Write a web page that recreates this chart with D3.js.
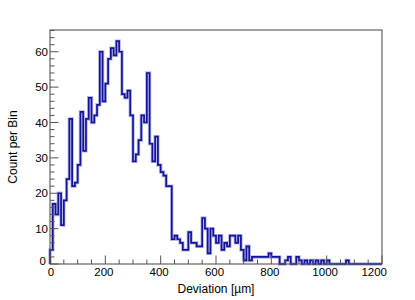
<!DOCTYPE html>
<html>
<head>
<meta charset="utf-8">
<script src="https://cdn.jsdelivr.net/npm/d3@7"></script>
<style>
  html, body { margin: 0; padding: 0; background: #fff; }
  svg { display: block; }
  text { font-family: "Liberation Sans", Arial, Helvetica, sans-serif; fill: #000; }
</style>
</head>
<body>
<svg id="chart" width="415" height="300"></svg>
<script>
// ---- data ----
const binWidth = 10;            // µm per bin
const xRange = [0, 1200];
const counts = [
  4,17,14,20,11,18,24,41,22,23,
  28,43,32,41,47,40,42,45,60,46,
  51,58,61,59,63,60,48,47,49,42,
  29,31,35,42,40,54,34,29,36,28,
  26,25,22,22,7,8,7,6,4,4,
  9,6,6,5,5,13,10,3,10,8,
  6,8,4,6,5,8,8,6,8,4,
  1,5,1,2,2,2,2,2,2,3,
  2,2,2,0,0,1,2,0,0,2,
  1,0,1,0,1,0,1,0,1,0,
  1,0,0,0,0,0,0,1,0,0,
  0,0,0,0,0,0,0,0,0,0
];
const xTicks = [0, 200, 400, 600, 800, 1000, 1200];
const yTicks = [0, 10, 20, 30, 40, 50, 60];
const xTitle = "Deviation [\u00b5m]";
const yTitle = "Count per Bin";

// ---- layout ----
const svg = d3.select("#chart");
const m = { left: 50, right: 33, top: 30, bottom: 36 };
const W = 415, H = 300;
const x = d3.scaleLinear().domain(xRange).range([m.left, W - m.right]);
const yMax = d3.max(counts) * 1.05;
const y = d3.scaleLinear().domain([0, yMax]).range([H - m.bottom, m.top]);

// ---- histogram outline ----
const pts = [[xRange[0], 0]];
counts.forEach((c, i) => {
  pts.push([i * binWidth, c]);
  pts.push([(i + 1) * binWidth, c]);
});
pts.push([xRange[1], 0]);
const line = d3.line().x(d => x(d[0])).y(d => y(d[1]));

svg.append("path").attr("d", line(pts))
  .attr("fill", "none").attr("stroke", "#b8b8e6").attr("stroke-width", 3.4)
  .attr("stroke-linejoin", "miter");
svg.append("path").attr("d", line(pts))
  .attr("fill", "none").attr("stroke", "#12129c").attr("stroke-width", 1.7)
  .attr("stroke-linejoin", "miter");

// ---- frame ----
const axisColor = "#555";
svg.append("rect")
  .attr("x", x.range()[0]).attr("y", y.range()[1])
  .attr("width", x.range()[1] - x.range()[0])
  .attr("height", y.range()[0] - y.range()[1])
  .attr("fill", "none").attr("stroke", axisColor).attr("stroke-width", 1.1);

// ---- x axis ticks ----
const gx = svg.append("g");
const xMinor = d3.range(xRange[0], xRange[1] + 1, 50);
gx.selectAll("line.minor").data(xMinor).join("line")
  .attr("x1", d => x(d)).attr("x2", d => x(d))
  .attr("y1", y(0)).attr("y2", d => y(0) - (d % 200 === 0 ? 8.5 : 4.5))
  .attr("stroke", axisColor).attr("stroke-width", 1);
gx.selectAll("text").data(xTicks).join("text")
  .attr("x", (d, i) => x(d) + (i === xTicks.length - 1 ? 5 : (i === 0 ? 1 : -1.5)))
  .attr("y", y(0) + 12)
  .attr("text-anchor", (d, i) => i === xTicks.length - 1 ? "end" : "middle")
  .attr("font-size", 11.5)
  .text(d => d);

// ---- y axis ticks ----
const gy = svg.append("g");
const yMinor = d3.range(0, yMax, 2);
gy.selectAll("line").data(yMinor).join("line")
  .attr("x1", x(0)).attr("x2", d => x(0) + (d % 10 === 0 ? 8.5 : 4.5))
  .attr("y1", d => y(d)).attr("y2", d => y(d))
  .attr("stroke", axisColor).attr("stroke-width", 1);
gy.selectAll("text").data(yTicks).join("text")
  .attr("x", d => x(0) - (d === 0 ? 4 : 2))
  .attr("y", d => y(d) - (d === 0 ? 3 : 0))
  .attr("dy", "0.35em")
  .attr("text-anchor", "end")
  .attr("font-size", 11.5)
  .text(d => d);

// ---- titles ----
svg.append("text")
  .attr("x", (x.range()[0] + x.range()[1]) / 2)
  .attr("y", 293)
  .attr("text-anchor", "middle")
  .attr("font-size", 12)
  .text(xTitle);
svg.append("text")
  .attr("transform", `translate(17, ${(y.range()[0] + y.range()[1]) / 2}) rotate(-90)`)
  .attr("text-anchor", "middle")
  .attr("font-size", 12)
  .text(yTitle);
</script>
</body>
</html>
